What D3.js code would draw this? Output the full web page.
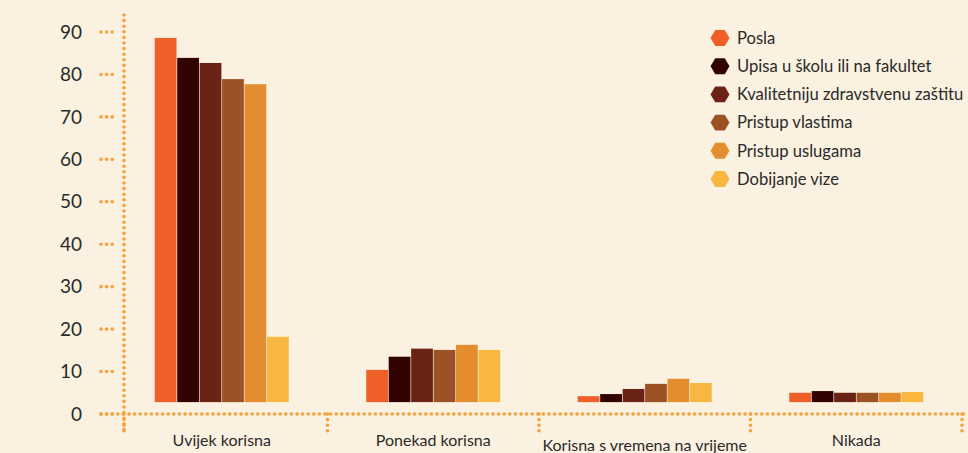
<!DOCTYPE html>
<html>
<head>
<meta charset="utf-8">
<script src="https://cdn.jsdelivr.net/npm/d3@7"></script>
<style>
  html, body { margin: 0; padding: 0; background: #faf1e1; }
  svg { display: block; }
  text { font-family: Lato, "Noto Sans", sans-serif; fill: #2b2a29; }
</style>
</head>
<body>
<div id="chart"></div>
<script>
// categories on the x axis
const categories = ["Uvijek korisna", "Ponekad korisna", "Korisna s vremena na vrijeme", "Nikada"];

// series (legend order)
const series = ["Posla", "Upisa u školu ili na fakultet", "Kvalitetniju zdravstvenu zaštitu",
                "Pristup vlastima", "Pristup uslugama", "Dobijanje vize"];
const colors = ["#f05f27", "#320300", "#6b2315", "#9c5225", "#e48d2e", "#f8b740"];

// values per series, one per category
const posla        = [88.6, 10.4, 4.2, 5.0];
const upisa        = [83.9, 13.5, 4.7, 5.4];
const kvalitetniju = [82.7, 15.4, 5.9, 5.0];
const vlastima     = [78.9, 15.1, 7.1, 5.0];
const uslugama     = [77.7, 16.3, 8.3, 5.0];
const vize         = [18.2, 15.1, 7.3, 5.2];
const values = [posla, upisa, kvalitetniju, vlastima, uslugama, vize];

const yTicks = [0, 10, 20, 30, 40, 50, 60, 70, 80, 90];
const barBase = 2.8; // bars in the original sit a little above the zero line

const width = 968, height = 453;
const axisColor = "#f6a23c";

const svg = d3.select("#chart").append("svg")
    .attr("width", width)
    .attr("height", height);

svg.append("rect").attr("width", width).attr("height", height).attr("fill", "#faf1e1");

var y = d3.scaleLinear().domain([0, 90]).range([414, 32]);
var x = d3.scaleBand().domain(categories).range([116, 962]);
var xs = d3.scaleBand().domain(series).range([-67, 67]).paddingInner(0.03);

const axisX = 124;

// dotted helper
function dots(x1, y1, x2, y2) {
  svg.append("line")
    .attr("x1", x1).attr("y1", y1).attr("x2", x2).attr("y2", y2)
    .attr("stroke", axisColor)
    .attr("stroke-width", 3.6)
    .attr("stroke-linecap", "round")
    .attr("stroke-dasharray", "0 5.6");
}

// vertical axis
dots(axisX, 15, axisX, 432);
// horizontal axis
dots(101, y(0), width, y(0));

// y ticks
yTicks.forEach(function(t) {
  dots(101, y(t), 113, y(t));
  svg.append("text")
    .attr("x", 82)
    .attr("y", y(t))
    .attr("dy", "0.35em")
    .attr("text-anchor", "end")
    .style("font-size", "19px")
    .text(t);
});

// category separators (downward ticks)
var bounds = categories.map(c => x(c) + x.bandwidth());
bounds.forEach(function(b) {
  dots(b, y(0), b, 432);
});
dots(axisX, y(0), axisX, 432);

// bars
var groups = svg.append("g").selectAll("g")
  .data(categories)
  .enter().append("g")
    .attr("transform", d => "translate(" + (x(d) + x.bandwidth() / 2) + ",0)");

groups.selectAll("rect")
  .data((c, ci) => series.map((s, si) => ({ s: s, si: si, v: values[si][ci] })))
  .enter().append("rect")
    .attr("x", d => xs(d.s))
    .attr("width", xs.bandwidth())
    .attr("y", d => y(d.v))
    .attr("height", d => y(barBase) - y(d.v))
    .attr("fill", d => colors[d.si]);

// category labels
svg.append("g").selectAll("text")
  .data(categories)
  .enter().append("text")
    .attr("x", d => x(d) + x.bandwidth() / 2)
    .attr("y", (d, i) => i == 2 ? 451 : 446)
    .attr("text-anchor", "middle")
    .style("font-size", "16px")
    .text(d => d);

// legend
var hex = d3.range(6).map(function(i) {
  var a = Math.PI / 3 * i;
  return [Math.cos(a) * 9.5, Math.sin(a) * 9.2];
});

var legend = svg.append("g").selectAll("g")
  .data(series)
  .enter().append("g")
    .attr("transform", (d, i) => "translate(720," + (38 + i * 28.2) + ")");

legend.append("path")
  .attr("d", "M" + hex.join("L") + "Z")
  .attr("fill", (d, i) => colors[i]);

legend.append("text")
  .attr("x", 17)
  .attr("dy", "0.35em")
  .style("font-size", "16.6px")
  .text(d => d);
</script>
</body>
</html>
